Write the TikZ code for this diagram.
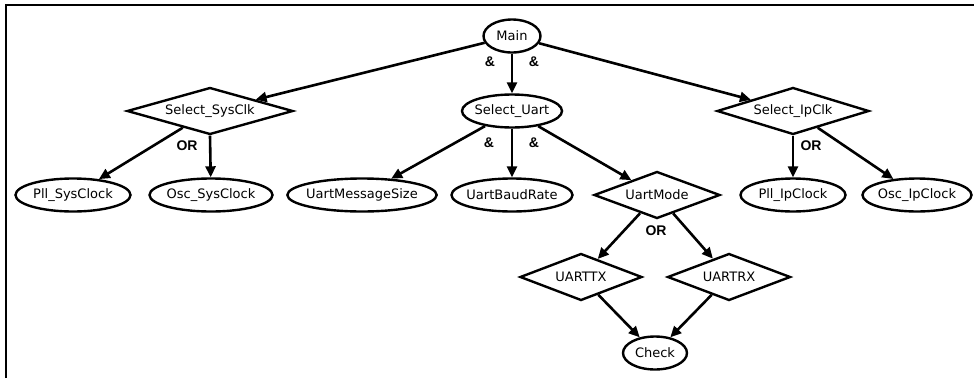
\documentclass[tikz,border=0pt]{standalone}
\usepackage{fontspec}
\usetikzlibrary{shapes.geometric,arrows.meta}
\newfontfamily\featfont{DejaVu Sans}
\newfontfamily\opfont{Liberation Sans}
\tikzset{
    feat/.style={draw, ellipse, line width=2.4pt, inner sep=0pt, inner xsep=-3pt, minimum height=33pt, font=\featfont\fontsize{13}{15}\selectfont},
    choice/.style={draw, diamond, aspect=3.5, line width=2.4pt, inner sep=0pt, minimum height=47pt, font=\featfont\fontsize{13}{15}\selectfont},
    link/.style={line width=2.6pt, -{Triangle[length=11pt,width=10pt]}},
    op/.style={font=\opfont\bfseries\fontsize{14}{16}\selectfont}
}
\begin{document}
\begin{tikzpicture}[x=1pt, y=-1pt]
                    \useasboundingbox (0, 0) rectangle (974, 378);
                    \draw[line width=2pt](6, 378) -- (6, 5) -- (974, 5);
                    \node[feat, minimum width=57pt] (main) at (512, 36) {Main};
                    \node[choice, minimum width=166pt] (sysclk) at (210, 111) {Select\_SysClk};
                    \node[feat, minimum width=100pt] (uart) at (512, 111) {Select\_Uart};
                    \node[choice, minimum width=152pt] (ipclk) at (793, 111) {Select\_IpClk};
                    \node[feat, minimum width=115pt] (pllsys) at (73, 195) {Pll\_SysClock};
                    \node[feat, minimum width=123pt] (oscsys) at (211, 195) {Osc\_SysClock};
                    \node[feat, minimum width=145pt] (msgsize) at (362, 195) {UartMessageSize};
                    \node[feat, minimum width=121pt] (baud) at (512, 195) {UartBaudRate};
                    \node[choice, minimum width=126pt] (mode) at (657, 195) {UartMode};
                    \node[feat, minimum width=105pt] (pllip) at (793, 195) {Pll\_IpClock};
                    \node[feat, minimum width=109pt] (oscip) at (917, 195) {Osc\_IpClock};
                    \node[choice, minimum width=122pt] (tx) at (581, 277) {UARTTX};
                    \node[choice, minimum width=123pt] (rx) at (729, 277) {UARTRX};
                    \node[feat, minimum width=64pt] (check) at (655, 353) {Check};
                    \draw[link](main) -- (sysclk);
                    \draw[link](main) -- (uart);
                    \draw[link](main) -- (ipclk);
                    \draw[link](sysclk) -- (pllsys);
                    \draw[link](sysclk.south) -- (oscsys);
                    \draw[link](uart) -- (msgsize);
                    \draw[link](uart) -- (baud);
                    \draw[link](uart) -- (mode);
                    \draw[link](ipclk.south) -- (pllip);
                    \draw[link](ipclk) -- (oscip);
                    \draw[link](mode) -- (tx);
                    \draw[link](mode) -- (rx);
                    \draw[link](tx) -- (check);
                    \draw[link](rx) -- (check);
                    \node[op] (andmain1) at (490, 62) {\&};
                    \node[op] (andmain2) at (534, 62) {\&};
                    \node[op] (anduart1) at (489, 143) {\&};
                    \node[op] (anduart2) at (534, 143) {\&};
                    \node[op] (orsys) at (187, 146) {OR};
                    \node[op] (orip) at (811, 146) {OR};
                    \node[op] (ormode) at (656, 231) {OR};
                \end{tikzpicture}
\end{document}
